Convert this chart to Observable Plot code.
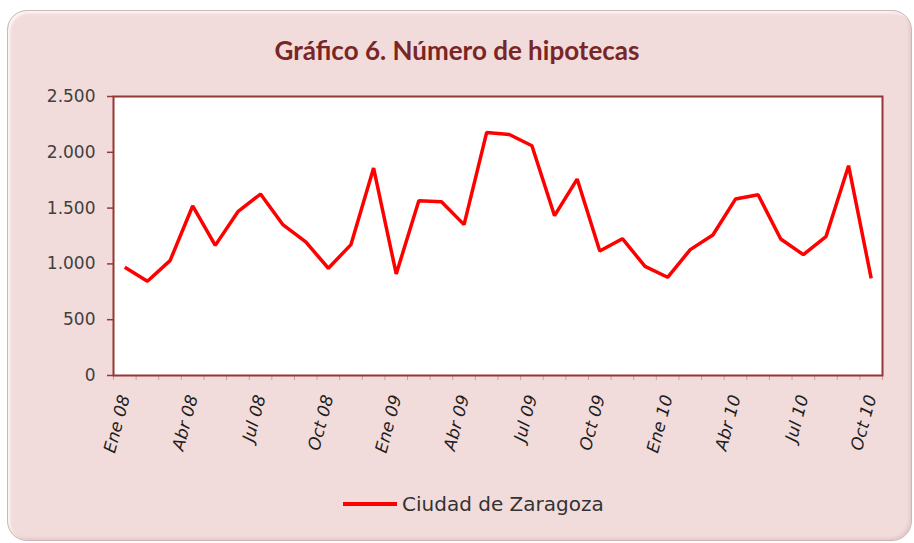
<!DOCTYPE html>
<html>
<head>
<meta charset="utf-8">
<script src="https://cdn.jsdelivr.net/npm/d3@7"></script>
<script src="https://cdn.jsdelivr.net/npm/@observablehq/plot@0.6"></script>
<style>
  html, body { margin: 0; padding: 0; background: #ffffff; }
  body { width: 914px; height: 543px; position: relative; overflow: hidden; }
  #card {
    position: absolute; left: 7px; top: 10px; width: 903px; height: 529px;
    background: #f2dcdb; border-radius: 20px;
    border: 1px solid #cdb6b5;
    box-shadow: inset 2px 2px 3px rgba(255,255,255,0.8), inset -2px -2px 3px rgba(200,170,170,0.35);
  }
  #title {
    position: absolute; left: 0; top: 35px; width: 914px; text-align: center;
    font-family: Lato, "Open Sans", sans-serif; font-weight: 700; font-size: 26px;
    line-height: 30px; color: #7a2626;
  }
  #chart { position: absolute; left: 0; top: 80px; }
  #legend {
    position: absolute; left: 343px; top: 490px; height: 28px;
    display: flex; align-items: center;
    font-family: "DejaVu Sans", sans-serif; font-size: 20px; color: #333333;
  }
  #legend .sw { display: inline-block; width: 54px; height: 3.5px; background: #ff0000; margin-right: 5px; }
</style>
</head>
<body>
<div id="card"></div>
<div id="title">Gráfico 6. Número de hipotecas</div>
<div id="chart"></div>
<div id="legend"><span class="sw"></span><span id="legendText"></span></div>
<script>
const seriesName = "Ciudad de Zaragoza";
const months = [
  "Ene 08","Feb 08","Mar 08","Abr 08","May 08","Jun 08","Jul 08","Ago 08","Sep 08","Oct 08","Nov 08","Dic 08",
  "Ene 09","Feb 09","Mar 09","Abr 09","May 09","Jun 09","Jul 09","Ago 09","Sep 09","Oct 09","Nov 09","Dic 09",
  "Ene 10","Feb 10","Mar 10","Abr 10","May 10","Jun 10","Jul 10","Ago 10","Sep 10","Oct 10"
];
const values = [
  969, 844, 1029, 1519, 1166, 1468, 1626, 1349, 1197, 961, 1173, 1859,
  910, 1566, 1557, 1352, 2178, 2160, 2059, 1432, 1760, 1115, 1226, 978,
  880, 1128, 1259, 1581, 1620, 1223, 1083, 1244, 1880, 871
];
const yTicks = [0, 500, 1000, 1500, 2000, 2500];
const labelEvery = 3;

document.getElementById("legendText").textContent = seriesName;

const data = months.map((m, i) => ({i, month: m, value: values[i]}));
const labelIdx = months.map((m, i) => i).filter(i => i % labelEvery === 0);
const boundaries = d3.range(months.length + 1).map(i => i - 0.5);
const es = d3.formatLocale({decimal: ",", thousands: ".", grouping: [3], currency: ["", " €"]});
const fmt = es.format(",d");

const chart = Plot.plot({
  width: 914,
  height: 390,
  marginLeft: 113,
  marginRight: 32,
  marginTop: 16,
  marginBottom: 95,
  style: {background: "transparent", fontFamily: "'DejaVu Sans', sans-serif", fontSize: "17px", overflow: "visible"},
  x: {type: "linear", domain: [-0.5, months.length - 0.5], axis: null},
  y: {domain: [0, 2500], axis: null},
  marks: [
    Plot.frame({fill: "#ffffff", stroke: null}),
    Plot.line(data, {x: "i", y: "value", stroke: "#ff0000", strokeWidth: 3.5, strokeLinejoin: "miter", strokeLinecap: "butt"}),
    Plot.axisX({ticks: boundaries, tickFormat: () => "", tickSize: 5, stroke: "#d49a9a", strokeWidth: 1, label: null}),
    Plot.axisX({ticks: labelIdx, tickFormat: i => months[i], tickSize: 0, tickPadding: 20, tickRotate: -75,
                fontStyle: "italic", fill: "#1e1e1e", fontSize: 17, label: null}),
    Plot.axisY({ticks: yTicks, tickFormat: fmt, tickSize: 6, tickPadding: 12, stroke: "#953735", strokeWidth: 1.5,
                fill: "#404040", fontSize: 17, label: null}),
    Plot.frame({stroke: "#953735", strokeWidth: 2})
  ]
});
document.getElementById("chart").appendChild(chart);
</script>
</body>
</html>
